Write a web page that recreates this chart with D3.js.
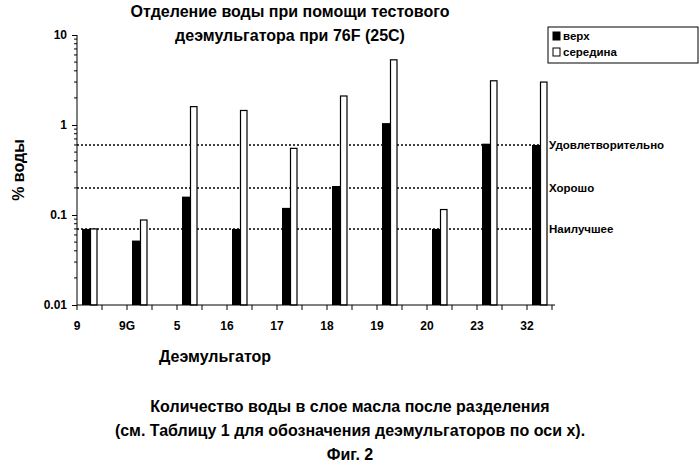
<!DOCTYPE html>
<html><head><meta charset="utf-8">
<script src="https://cdn.jsdelivr.net/npm/d3@7"></script>
<style>body{margin:0;background:#fff}text{font-family:"Liberation Sans",Arial,sans-serif}</style>
</head><body><svg id="c" width="700" height="466"></svg>
<script>
const categories = ["9", "9G", "5", "16", "17", "18", "19", "20", "23", "32"]
const upperVals = [0.07, 0.052, 0.16, 0.07, 0.12, 0.21, 1.05, 0.07, 0.62, 0.6]
const middleVals = [0.07, 0.088, 1.6, 1.45, 0.55, 2.1, 5.3, 0.115, 3.1, 3.0]
const refLevels = [0.6, 0.2, 0.07]
const refLabels = ["Удовлетворительно", "Хорошо", "Наилучшее"]
const yTicks = [10, 1, 0.1, 0.01]
const seriesNames = ["верх", "середина"]

const svg = d3.select("#c")
const x = d3.scaleBand().domain(categories).range([77, 577]).paddingInner(0)
const y = d3.scaleLog().domain([0.01, 10]).range([305, 35])

// reference lines
refLevels.forEach((v, i) => {
	svg.append("line").attr("x1", 77).attr("x2", 546).attr("y1", y(v)).attr("y2", y(v))
	   .attr("stroke", "#000").attr("stroke-width", 1.5).attr("stroke-dasharray", "2,2")
	svg.append("text").attr("x", 549).attr("y", y(v) + 4).attr("font-size", 11.5).attr("font-weight", "bold").text(refLabels[i])
})

// bars
categories.forEach((c, i) => {
	const x0 = x(c)
	svg.append("rect").attr("x", x0 + 5).attr("y", y(upperVals[i])).attr("width", 8).attr("height", y(0.01) - y(upperVals[i])).attr("fill", "#000")
	svg.append("rect").attr("x", x0 + 13.5).attr("y", y(middleVals[i])).attr("width", 6.5).attr("height", y(0.01) - y(middleVals[i]))
	   .attr("fill", "#fff").attr("stroke", "#000").attr("stroke-width", 1.2)
})

// y axis
const yAxis = d3.axisLeft(y).tickValues(yTicks).tickFormat(d => String(d)).tickSize(5)
const gy = svg.append("g").attr("transform", "translate(77,0)").call(yAxis)
gy.selectAll("text").attr("font-size", 12).attr("font-weight", "bold").attr("x", -10)
gy.select(".domain").attr("d", "M0,35V305")
// minor ticks
const minor = []
for (let e = -2; e < 1; e++) for (let k = 2; k < 10; k++) minor.push(k * Math.pow(10, e))
gy.selectAll(".mn").data(minor).enter().append("line").attr("x1", -3).attr("x2", 0)
  .attr("y1", d => y(d)).attr("y2", d => y(d)).attr("stroke", "#000")

// x axis
svg.append("line").attr("x1", 77).attr("x2", 555).attr("y1", 305).attr("y2", 305).attr("stroke", "#000")
for (let t = 0; t <= 19; t++) {
	const xt = 77 + t * 25
	svg.append("line").attr("x1", xt).attr("x2", xt).attr("y1", 305).attr("y2", 310).attr("stroke", "#000")
}
categories.forEach(c => {
	svg.append("text").attr("x", x(c)).attr("y", 330).attr("text-anchor", "middle")
	   .attr("font-size", 12).attr("font-weight", "bold").text(c)
})

// titles
svg.append("text").attr("x", 290).attr("y", 17).attr("text-anchor", "middle").attr("font-size", 16).attr("font-weight", "bold").text("Отделение воды при помощи тестового")
svg.append("text").attr("x", 290).attr("y", 41).attr("text-anchor", "middle").attr("font-size", 16).attr("font-weight", "bold").text("деэмульгатора при 76F (25С)")
svg.append("text").attr("transform", "translate(24,170) rotate(-90)").attr("text-anchor", "middle").attr("font-size", 16).attr("font-weight", "bold").text("% воды")
svg.append("text").attr("x", 215).attr("y", 362).attr("text-anchor", "middle").attr("font-size", 16).attr("font-weight", "bold").text("Деэмульгатор")
const cap = ["Количество воды в слое масла после разделения", "(см. Таблицу 1 для обозначения деэмульгаторов по оси х).", "Фиг. 2"]
cap.forEach((t, i) => svg.append("text").attr("x", 350).attr("y", 412 + i * 24).attr("text-anchor", "middle").attr("font-size", 16).attr("font-weight", "bold").text(t))

// legend
const lg = svg.append("g").attr("transform", "translate(548,27)")
lg.append("rect").attr("width", 150).attr("height", 36).attr("fill", "#fff").attr("stroke", "#000")
seriesNames.forEach((n, i) => {
	lg.append("rect").attr("x", 5).attr("y", 5 + i * 16).attr("width", 7).attr("height", 8)
	  .attr("fill", i ? "#fff" : "#000").attr("stroke", "#000")
	lg.append("text").attr("x", 15).attr("y", 13 + i * 16).attr("font-size", 11.5).attr("font-weight", "bold").text(n)
})
</script></body></html>
